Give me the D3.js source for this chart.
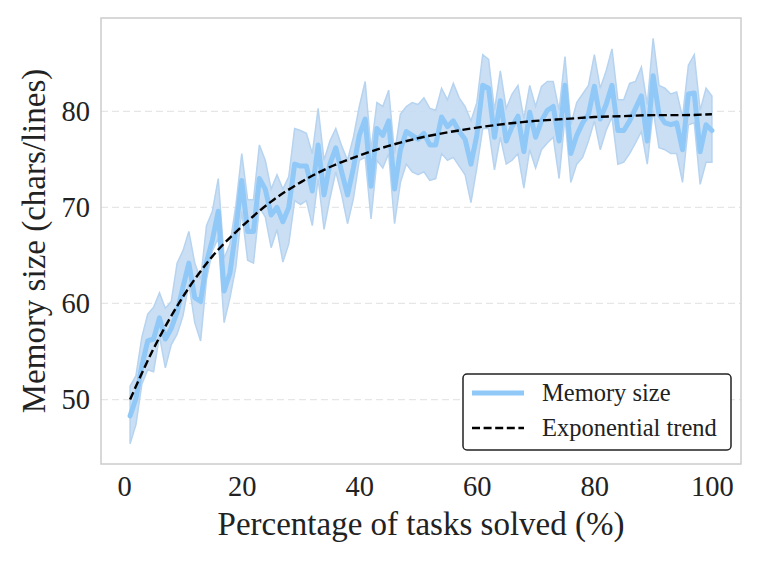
<!DOCTYPE html>
<html>
<head>
<meta charset="utf-8">
<script src="https://cdn.jsdelivr.net/npm/d3@7"></script>
<style>
  html, body { margin: 0; padding: 0; background: #fff; }
  svg { display: block; }
  text { font-family: "Liberation Serif", "DejaVu Serif", serif; fill: #222; }
</style>
</head>
<body>
<div id="chart"></div>
<script>
// ---- Data ----
const percent = d3.range(1, 101);
const memorySize = [
  48.3, 50.1, 53.5, 56.1, 56.3, 58.5, 56.3, 57.4, 59.1, 61.7,
  64.2, 60.6, 60.2, 64.3, 66.6, 69.6, 61.3, 63.2, 67.7, 72.8,
  67.5, 67.5, 73.0, 71.9, 69.2, 70.0, 68.5, 70.0, 74.5, 74.3,
  74.3, 71.7, 76.5, 71.3, 74.5, 76.2, 73.7, 71.3, 74.1, 77.5,
  79.2, 72.2, 78.2, 77.5, 79.0, 71.9, 76.0, 77.9, 77.5, 77.1,
  77.7, 76.5, 76.5, 79.4, 78.4, 79.0, 77.9, 77.1, 74.5, 77.5,
  82.7, 82.4, 77.3, 81.1, 76.9, 78.4, 79.5, 75.8, 79.9, 77.3,
  79.0, 80.1, 80.5, 76.9, 82.7, 75.6, 77.5, 78.8, 79.7, 82.6,
  79.2, 80.7, 82.7, 78.0, 78.0, 79.0, 80.3, 81.6, 76.9, 83.7,
  79.7, 78.8, 78.6, 78.8, 76.0, 81.8, 81.9, 75.8, 78.6, 78.0
];
const bandUpper = [
  51.4, 52.5, 56.5, 58.9, 59.6, 61.1, 59.5, 60.2, 64.2, 65.5,
  67.5, 64.2, 62.5, 68.1, 69.6, 73.0, 64.7, 66.2, 70.2, 75.6,
  70.8, 70.8, 76.5, 74.9, 71.9, 73.4, 71.9, 73.2, 78.2, 78.0,
  77.7, 75.6, 80.3, 74.9, 76.9, 78.2, 76.4, 74.9, 77.3, 80.5,
  83.1, 76.0, 80.9, 80.5, 82.2, 75.6, 79.7, 80.5, 80.9, 80.7,
  81.4, 80.3, 80.1, 82.4, 81.2, 82.9, 81.4, 80.5, 79.0, 80.9,
  85.9, 85.4, 80.1, 84.2, 80.3, 81.8, 82.7, 79.2, 82.7, 80.5,
  82.6, 83.1, 83.1, 80.1, 85.7, 78.6, 80.9, 81.8, 82.7, 85.9,
  82.4, 84.2, 86.5, 81.2, 81.2, 82.9, 83.1, 84.6, 80.7, 87.6,
  82.7, 82.4, 81.8, 82.0, 79.4, 84.8, 85.9, 80.1, 82.4, 81.6
];
const bandLower = [
  45.4, 47.4, 51.6, 53.1, 52.9, 56.6, 53.3, 55.7, 56.8, 58.7,
  62.1, 58.0, 56.1, 62.5, 65.5, 66.8, 58.0, 60.6, 63.8, 69.6,
  64.5, 64.2, 70.0, 69.0, 65.8, 67.7, 64.3, 66.2, 70.7, 70.3,
  70.7, 68.1, 73.0, 67.7, 70.9, 73.7, 71.3, 68.3, 70.9, 74.9,
  75.2, 68.8, 74.9, 74.1, 75.6, 68.3, 72.6, 74.5, 73.7, 73.4,
  73.7, 72.8, 73.0, 75.6, 74.9, 75.2, 74.3, 73.4, 70.5, 74.1,
  78.2, 78.2, 73.9, 77.3, 74.5, 74.9, 75.6, 72.0, 76.0, 74.1,
  76.0, 76.7, 77.3, 73.0, 79.4, 72.6, 74.5, 75.2, 76.9, 79.0,
  76.0, 78.0, 79.4, 74.5, 74.7, 75.6, 76.7, 77.9, 74.5, 80.1,
  76.2, 76.0, 75.6, 75.6, 72.6, 78.6, 78.8, 72.4, 74.7, 74.7
];
// Exponential trend
const trendX = [1, 5, 10, 15, 20, 25, 30, 35, 40, 45, 50, 55, 60, 65, 70, 75, 80, 85, 90, 95, 100];
const trendY = [50.0, 55.3, 60.7, 64.9, 68.0, 70.6, 72.6, 74.2, 75.4, 76.4, 77.2, 77.8, 78.3, 78.7, 79.0, 79.2, 79.4, 79.5, 79.6, 79.6, 79.7];
const xTicks = [0, 20, 40, 60, 80, 100];
const yTicks = [50, 60, 70, 80];
const seriesLabels = ["Memory size", "Exponential trend"];
const xTitle = "Percentage of tasks solved (%)";
const yTitle = "Memory size (chars/lines)";

// ---- Layout ----
const W = 766, H = 565;
const plot = { left: 101, right: 741, top: 18, bottom: 464 };
const lineColor = "#90c8f8";
const bandFill = "#c4dbf3";
const bandEdge = "#b6d3f0";

const x = d3.scaleLinear().domain([-3.95, 104.95]).range([plot.left, plot.right]);
const y = d3.scaleLinear().domain([43.29, 89.71]).range([plot.bottom, plot.top]);

const svg = d3.select("#chart").append("svg").attr("width", W).attr("height", H);

// grid
svg.append("g").selectAll("line").data(yTicks).join("line")
  .attr("x1", plot.left).attr("x2", plot.right)
  .attr("y1", d => y(d)).attr("y2", d => y(d))
  .attr("stroke", "#e6e6e6").attr("stroke-width", 1.2)
  .attr("stroke-dasharray", "7,4");

svg.append("defs").append("clipPath").attr("id", "clip")
  .append("rect").attr("x", plot.left).attr("y", plot.top)
  .attr("width", plot.right - plot.left).attr("height", plot.bottom - plot.top);

const g = svg.append("g").attr("clip-path", "url(#clip)");

const rows = percent.map((p, i) => ({ p, v: memorySize[i], lo: bandLower[i], hi: bandUpper[i] }));

// band
g.append("path").datum(rows)
  .attr("d", d3.area().x(d => x(d.p)).y0(d => y(d.lo)).y1(d => y(d.hi)))
  .attr("fill", bandFill).attr("fill-opacity", 0.9)
  .attr("stroke", bandEdge).attr("stroke-width", 1.5);

// main line
g.append("path").datum(rows)
  .attr("d", d3.line().x(d => x(d.p)).y(d => y(d.v)))
  .attr("fill", "none").attr("stroke", lineColor).attr("stroke-width", 5)
  .attr("stroke-linejoin", "round").attr("stroke-linecap", "round");

// trend
const trendRows = trendX.map((t, i) => ({ t, v: trendY[i] }));
g.append("path").datum(trendRows)
  .attr("d", d3.line().curve(d3.curveMonotoneX).x(d => x(d.t)).y(d => y(d.v)))
  .attr("fill", "none").attr("stroke", "#000").attr("stroke-width", 2.4)
  .attr("stroke-dasharray", "8,3.6");

// frame
svg.append("rect").attr("x", plot.left).attr("y", plot.top)
  .attr("width", plot.right - plot.left).attr("height", plot.bottom - plot.top)
  .attr("fill", "none").attr("stroke", "#cccccc").attr("stroke-width", 1.5);

// axes (labels only, no tick marks)
const xAxis = d3.axisBottom(x).tickValues(xTicks).tickSize(0).tickPadding(12);
svg.append("g").attr("transform", `translate(0,${plot.bottom})`).call(xAxis)
  .call(a => a.select(".domain").remove())
  .selectAll("text").attr("font-size", 28.5).attr("fill", "#222")
  .attr("font-family", "Liberation Serif, serif");

const yAxis = d3.axisLeft(y).tickValues(yTicks).tickSize(0).tickPadding(11);
svg.append("g").attr("transform", `translate(${plot.left},0)`).call(yAxis)
  .call(a => a.select(".domain").remove())
  .selectAll("text").attr("font-size", 28.5).attr("fill", "#222")
  .attr("font-family", "Liberation Serif, serif");

// titles
svg.append("text").attr("x", (plot.left + plot.right) / 2).attr("y", 535)
  .attr("text-anchor", "middle").attr("font-size", 33).text(xTitle);
svg.append("text").attr("transform", `translate(45,${(plot.top + plot.bottom) / 2}) rotate(-90)`)
  .attr("text-anchor", "middle").attr("font-size", 33).text(yTitle);

// legend
const lg = svg.append("g");
lg.append("rect").attr("x", 463).attr("y", 374).attr("width", 268).attr("height", 76)
  .attr("rx", 4).attr("fill", "#fff").attr("stroke", "#222").attr("stroke-width", 1.5);
lg.append("line").attr("x1", 472).attr("x2", 524).attr("y1", 393).attr("y2", 393)
  .attr("stroke", lineColor).attr("stroke-width", 5);
lg.append("line").attr("x1", 472).attr("x2", 524).attr("y1", 428).attr("y2", 428)
  .attr("stroke", "#000").attr("stroke-width", 2.4).attr("stroke-dasharray", "8,3.6");
lg.selectAll("text.lab").data(seriesLabels).join("text").attr("class", "lab")
  .attr("x", 542).attr("y", (d, i) => 401 + i * 35)
  .attr("font-size", 24.5).text(d => d);
</script>
</body>
</html>
